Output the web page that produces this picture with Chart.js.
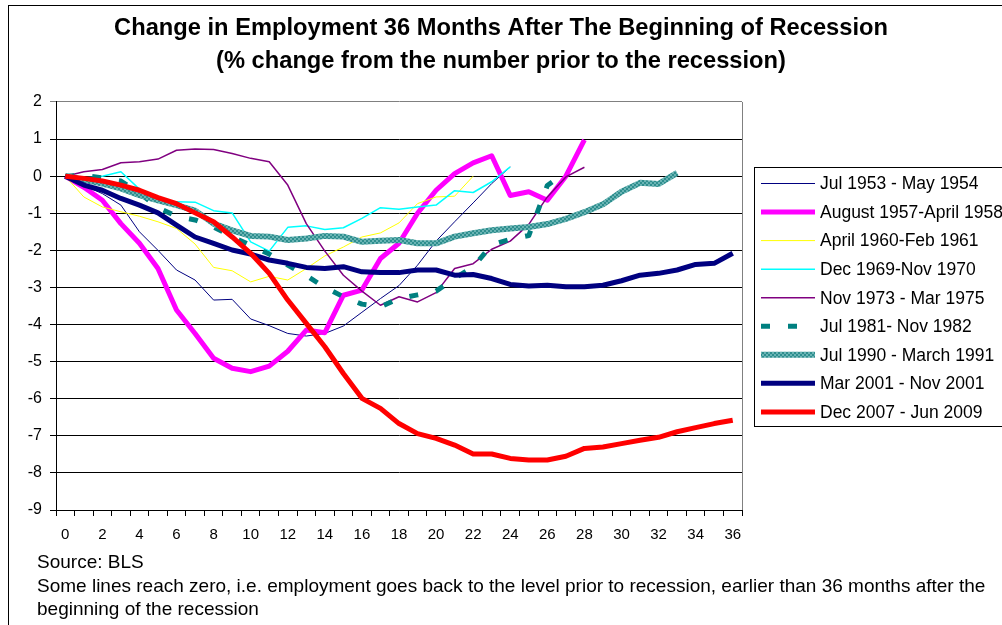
<!DOCTYPE html>
<html><head><meta charset="utf-8">
<script src="https://cdn.jsdelivr.net/npm/chart.js"></script>
<style>
html,body{margin:0;padding:0;background:#fff;}
#wrap{position:relative;width:1002px;height:625px;overflow:hidden;font-family:"Liberation Sans",Arial,sans-serif;}
#frame{position:absolute;left:8px;top:5px;width:2000px;height:2000px;border-left:1px solid #000;border-top:1px solid #000;}
canvas{position:absolute;left:0;top:0;}
.note{position:absolute;left:37px;font-size:19px;line-height:23.5px;color:#000;white-space:nowrap;}
</style></head>
<body><div id="wrap"><div id="frame"></div><canvas id="c" width="1002" height="625"></canvas>
<div class="note" style="top:550px">Source: BLS</div>
<div class="note" style="top:573.5px">Some lines reach zero, i.e. employment goes back to the level prior to recession, earlier than 36 months after the<br>beginning of the recession</div>
</div>
<script>
const months = ['0','1','2','3','4','5','6','7','8','9','10','11','12','13','14','15','16','17','18','19','20','21','22','23','24','25','26','27','28','29','30','31','32','33','34','35','36'];
const seriesNames = ['Jul 1953 - May 1954','August 1957-April 1958','April 1960-Feb 1961','Dec 1969-Nov 1970','Nov 1973 - Mar 1975','Jul 1981- Nov 1982','Jul 1990 - March 1991','Mar 2001 - Nov 2001','Dec 2007 - Jun 2009'];
const jul1953 = [0,-0.25,-0.47,-0.78,-1.5,-2.0,-2.53,-2.8,-3.34,-3.32,-3.85,-4.03,-4.24,-4.31,-4.24,-4.04,-3.67,-3.3,-2.95,-2.4,-1.75,-1.23,-0.72,-0.2,0.25];
const aug1957 = [0,-0.3,-0.65,-1.28,-1.81,-2.49,-3.61,-4.24,-4.91,-5.18,-5.27,-5.12,-4.72,-4.15,-4.22,-3.21,-3.07,-2.22,-1.81,-1.0,-0.38,0.07,0.36,0.55,-0.52,-0.42,-0.65,0.0,0.98];
const apr1960 = [0,-0.56,-0.83,-0.96,-1.08,-1.23,-1.41,-1.83,-2.46,-2.55,-2.85,-2.7,-2.8,-2.49,-2.15,-1.91,-1.64,-1.53,-1.26,-0.74,-0.56,-0.54,0.0];
const dec1969 = [0,-0.05,0.0,0.12,-0.35,-0.69,-0.69,-0.7,-0.93,-0.99,-1.77,-2.02,-1.38,-1.34,-1.44,-1.39,-1.14,-0.85,-0.89,-0.83,-0.78,-0.39,-0.44,-0.15,0.25];
const nov1973 = [0,0.12,0.18,0.36,0.39,0.46,0.7,0.73,0.72,0.61,0.48,0.39,-0.24,-1.28,-2.02,-2.67,-3.1,-3.48,-3.25,-3.39,-3.14,-2.49,-2.36,-1.97,-1.75,-1.3,-0.56,-0.02,0.24];
const jul1981 = [0,0.02,-0.05,-0.13,-0.45,-0.85,-1.08,-1.18,-1.37,-1.63,-1.87,-2.1,-2.4,-2.68,-3.0,-3.25,-3.45,-3.52,-3.3,-3.2,-3.1,-2.75,-2.45,-1.85,-1.7,-1.6,-0.25,0.1];
const jul1990 = [0,-0.1,-0.2,-0.33,-0.51,-0.65,-0.78,-0.93,-1.28,-1.46,-1.61,-1.63,-1.72,-1.68,-1.61,-1.63,-1.77,-1.74,-1.72,-1.81,-1.81,-1.63,-1.54,-1.46,-1.41,-1.37,-1.29,-1.15,-0.97,-0.76,-0.42,-0.18,-0.21,0.09];
const mar2001 = [0,-0.24,-0.38,-0.6,-0.78,-0.99,-1.32,-1.64,-1.81,-1.99,-2.1,-2.26,-2.35,-2.46,-2.49,-2.44,-2.58,-2.6,-2.6,-2.53,-2.53,-2.67,-2.65,-2.76,-2.92,-2.96,-2.94,-2.98,-2.98,-2.94,-2.82,-2.67,-2.62,-2.53,-2.38,-2.35,-2.08];
const dec2007 = [0,-0.06,-0.13,-0.24,-0.38,-0.58,-0.74,-0.99,-1.23,-1.64,-2.08,-2.62,-3.34,-3.97,-4.6,-5.32,-5.99,-6.26,-6.67,-6.94,-7.07,-7.25,-7.49,-7.49,-7.61,-7.65,-7.65,-7.55,-7.34,-7.3,-7.21,-7.12,-7.04,-6.89,-6.78,-6.67,-6.58];
const titleLines = ['Change in Employment 36 Months After The Beginning of Recession','(% change from the number prior to the recession)'];

const FONT = '"Liberation Sans", Arial, sans-serif';
Chart.defaults.font.family = FONT;
Chart.defaults.color = '#000';

function hatch(){
  const c = document.createElement('canvas'); c.width = 4; c.height = 4;
  const g = c.getContext('2d');
  g.fillStyle = '#2e8e8e'; g.fillRect(0,0,4,4);
  g.fillStyle = '#6ab4b4'; g.fillRect(0,0,2,2); g.fillRect(2,2,2,2);
  return g.createPattern(c,'repeat');
}

const styles = [
  {c:'#000080', w:1},
  {c:'#FF00FF', w:5},
  {c:'#FFFF00', w:1},
  {c:'#00FFFF', w:1.5},
  {c:'#800080', w:1.5},
  {c:'#008080', w:5, dash:[9,18]},
  {c:hatch(), w:6},
  {c:'#000080', w:5},
  {c:'#FF0000', w:5}
];
const allData = [jul1953,aug1957,apr1960,dec1969,nov1973,jul1981,jul1990,mar2001,dec2007];

const datasets = allData.map((d,i)=>({
  label: seriesNames[i],
  data: d,
  yAxisID: 'y',
  borderColor: styles[i].c,
  backgroundColor: styles[i].c,
  borderWidth: styles[i].w,
  borderDash: styles[i].dash || [],
  pointRadius: 0,
  pointHoverRadius: 0,
  tension: 0,
  fill: false,
  borderJoinStyle: 'round',
  order: 8 - i
}));

const frameLines = {
  id:'frameLines',
  beforeDatasetsDraw(chart){
    const a = chart.chartArea, ctx = chart.ctx;
    ctx.save(); ctx.strokeStyle = '#808080'; ctx.lineWidth = 1;
    ctx.beginPath(); ctx.moveTo(Math.round(a.right)+0.5, a.top); ctx.lineTo(Math.round(a.right)+0.5, a.bottom); ctx.stroke();
    ctx.restore();
  }
};

const boxLegend = {
  id:'boxLegend',
  afterDraw(chart){
    const ctx = chart.ctx; ctx.save();
    ctx.fillStyle = '#fff'; ctx.fillRect(755,168,300,258);
    ctx.strokeStyle = '#000'; ctx.lineWidth = 1; ctx.setLineDash([]);
    ctx.strokeRect(754.5,167.5,300,259);
    chart.data.datasets.forEach((ds,i)=>{
      const y = 183.5 + i*28.55;
      ctx.beginPath(); ctx.setLineDash(ds.borderDash || []);
      ctx.strokeStyle = ds.borderColor; ctx.lineWidth = ds.borderWidth; ctx.lineCap = 'butt';
      ctx.moveTo(761,y); ctx.lineTo(815,y); ctx.stroke();
      ctx.setLineDash([]);
      ctx.fillStyle = '#000'; ctx.font = '17.5px ' + FONT; ctx.textBaseline = 'middle'; ctx.textAlign = 'left';
      ctx.fillText(ds.label, 820, y + 1);
    });
    ctx.restore();
  }
};

new Chart(document.getElementById('c'), {
  type: 'line',
  data: { labels: months, datasets },
  plugins: [frameLines, boxLegend],
  options: {
    responsive: false,
    animation: false,
    events: [],
    layout: { padding: { left: 0, right: 0, top: 0, bottom: 75 } },
    plugins: {
      legend: { display: false },
      tooltip: { enabled: false },
      title: {
        display: true,
        text: titleLines,
        color: '#000',
        font: { size: 23.7, weight: 'bold', lineHeight: 1.392 },
        padding: { top: 12, bottom: 24 }
      }
    },
    scales: {
      x: {
        type: 'category',
        offset: true,
        grid: { offset: true, drawOnChartArea: false, drawTicks: true, tickLength: 6, color: '#000' },
        border: { color: '#000', width: 1 },
        ticks: {
          autoSkip: false, maxRotation: 0, minRotation: 0, padding: 10,
          font: { size: 15 }, color: '#000',
          callback: function(v, i){ return i % 2 === 0 ? this.getLabelForValue(v) : ''; }
        },
        afterFit(s){ s.height = 40; }
      },
      y: {
        position: 'left',
        min: -9, max: 2,
        grid: { color: (c)=> (c.tick && c.tick.value === 2) ? '#808080' : '#000', tickLength: 6, drawTicks: true },
        border: { color: '#000', width: 1 },
        ticks: { stepSize: 1, padding: 8, font: { size: 16 }, color: '#000' },
        afterFit(s){ s.width = 56; }
      },
      legendSpace: {
        type: 'linear',
        position: 'right',
        display: true,
        grid: { display: false, drawOnChartArea: false },
        border: { display: false },
        ticks: { display: false },
        afterFit(s){ s.width = 260; }
      }
    }
  }
});
</script>
</body></html>
